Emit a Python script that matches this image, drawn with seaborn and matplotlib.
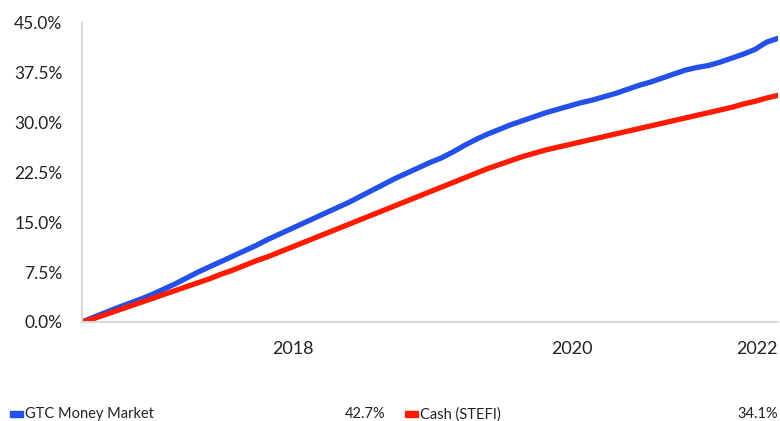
import numpy as np
import pandas as pd
import matplotlib
matplotlib.use("Agg")
import matplotlib.pyplot as plt
import matplotlib.patches as mpatches
import seaborn as sns

# monthly cumulative returns (%), month 0 = start of series
gtc = [0.0, 0.7, 1.4, 2.1, 2.75, 3.4, 4.1, 4.9, 5.7, 6.6,
       7.5, 8.3, 9.1, 9.9, 10.7, 11.5, 12.4, 13.2, 14.0, 14.8,
       15.6, 16.4, 17.2, 18.0, 18.9, 19.8, 20.7, 21.6, 22.4, 23.2,
       24.0, 24.7, 25.6, 26.6, 27.5, 28.3, 29.0, 29.7, 30.3, 30.9,
       31.5, 32.0, 32.5, 33.0, 33.4, 33.9, 34.4, 35.0, 35.6, 36.1,
       36.7, 37.3, 37.9, 38.3, 38.6, 39.1, 39.7, 40.3, 41.0, 42.1,
       42.7]
stefi = [0.0, 0.5, 1.1, 1.7, 2.3, 2.9, 3.5, 4.1, 4.7, 5.3,
         5.9, 6.5, 7.2, 7.8, 8.5, 9.2, 9.8, 10.5, 11.2, 11.9,
         12.6, 13.3, 14.0, 14.7, 15.4, 16.1, 16.8, 17.5, 18.2, 18.9,
         19.6, 20.3, 21.0, 21.7, 22.4, 23.1, 23.7, 24.3, 24.9, 25.4,
         25.9, 26.3, 26.7, 27.1, 27.5, 27.9, 28.3, 28.7, 29.1, 29.5,
         29.9, 30.3, 30.7, 31.1, 31.5, 31.9, 32.3, 32.8, 33.2, 33.7,
         34.1]
series_names = ["GTC Money Market", "Cash (STEFI)"]
final_labels = ["42.7%", "34.1%"]
tick_months = [20, 44, 60]
tick_years = ["2018", "2020", "2022"]
y_ticks = [0, 7.5, 15, 22.5, 30, 37.5, 45]

colors = {"GTC Money Market": "#2350e8", "Cash (STEFI)": "#ff1a00"}
grey = "#d9d9d9"
ink = "#222222"

months = np.arange(len(gtc))
df = pd.concat([
    pd.DataFrame({"month": months, "value": gtc, "series": series_names[0]}),
    pd.DataFrame({"month": months, "value": stefi, "series": series_names[1]}),
])

sns.set_style("white")
plt.rcParams["font.family"] = ["Lato", "DejaVu Sans"]

fig = plt.figure(figsize=(7.8, 4.21), dpi=100)
ax = fig.add_axes([0.105, 0.2352, 0.8924, 0.7102])

sns.lineplot(data=df, x="month", y="value", hue="series", palette=colors,
             linewidth=3.8, legend=False, ax=ax)

ax.set_xlim(0, 60)
ax.set_ylim(0, 45)
ax.set_xlabel("")
ax.set_ylabel("")

ax.set_yticks(y_ticks)
ax.set_yticklabels([f"{v:.1f}%" for v in y_ticks])
ax.set_xticks(tick_months)
ax.set_xticklabels(tick_years, ha="right")

for s in ["top", "right"]:
    ax.spines[s].set_visible(False)
for s in ["left", "bottom"]:
    ax.spines[s].set_color(grey)
    ax.spines[s].set_linewidth(1.5)

ax.tick_params(axis="both", length=11, width=1.5, color=grey, labelcolor=ink)
ax.tick_params(axis="y", pad=3, labelsize=12.5)
ax.tick_params(axis="x", pad=3, labelsize=13)

# bottom legend with final values
leg_y = 0.016
for i, (name, x0, xv) in enumerate([(series_names[0], 0.013, 0.494),
                                     (series_names[1], 0.519, 0.997)]):
    fig.patches.append(mpatches.Rectangle((x0, leg_y - 0.006), 0.017, 0.014,
                                          transform=fig.transFigure,
                                          color=colors[name]))
    fig.text(x0 + 0.019, leg_y, name, fontsize=10.5, va="center", color=ink)
    fig.text(xv, leg_y, final_labels[i], fontsize=10.5, va="center",
             ha="right", color=ink)

fig.savefig("out.png", dpi=100)
